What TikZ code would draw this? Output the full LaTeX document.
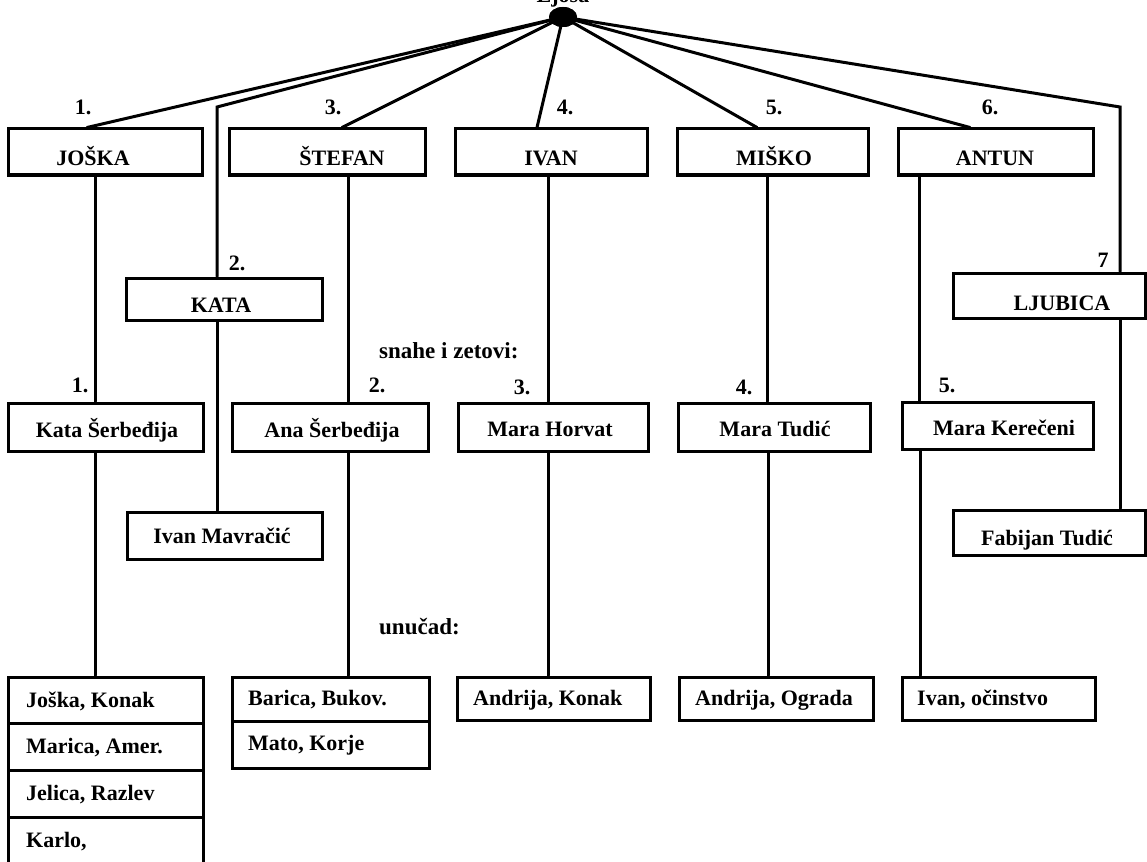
\documentclass[tikz,border=0pt]{standalone}
\usepackage{fontspec}
\setmainfont{Liberation Serif}
\usetikzlibrary{shapes.geometric}
\begin{document}
\begin{tikzpicture}[x=1pt,y=-1pt,
  box/.style={draw, rectangle, line width=3pt, inner sep=0pt},
  lnk/.style={line width=3pt, line cap=round, line join=miter},
  t/.style={inner sep=0pt, font=\fontsize{22}{26}\selectfont\bfseries}]
\useasboundingbox (0,0) rectangle (1147,861);
\fill[white] (0,0) rectangle (1147,861);
% hub
\node[ellipse, fill=black, minimum width=28pt, minimum height=20pt, inner sep=0pt] (hub) at (563,17) {};
\node[t, anchor=base] (top) at (563,3) {Ljoša};
% top row
\node[box, minimum width=194pt, minimum height=46pt] (joska) at (105,152) {};
\node[box, minimum width=196pt, minimum height=46pt] (stefan) at (327,152) {};
\node[box, minimum width=192pt, minimum height=46pt] (ivan) at (551,152) {};
\node[box, minimum width=191pt, minimum height=46pt] (misko) at (772.5,152) {};
\node[box, minimum width=195pt, minimum height=46pt] (antun) at (995.5,152) {};
\node[box, minimum width=196pt, minimum height=42pt] (kata) at (224,299) {};
\node[box, minimum width=192pt, minimum height=45pt] (ljubica) at (1049,295.5) {};
% in-laws
\node[box, minimum width=195pt, minimum height=48pt] (kataS) at (105.5,427) {};
\node[box, minimum width=196pt, minimum height=48pt] (ana) at (330,427) {};
\node[box, minimum width=190pt, minimum height=48pt] (horvat) at (553,427) {};
\node[box, minimum width=192pt, minimum height=48pt] (tudic) at (774,427) {};
\node[box, minimum width=191pt, minimum height=47pt] (kerec) at (997.5,425.5) {};
\node[box, minimum width=195pt, minimum height=47pt] (mavr) at (224.5,535.5) {};
\node[box, minimum width=192pt, minimum height=45pt] (fabijan) at (1049,532.5) {};
% grandchildren
\node[box, minimum width=195pt, minimum height=46pt] (g1) at (105.5,700) {};
\node[box, minimum width=195pt, minimum height=47pt] (g2) at (105.5,746.5) {};
\node[box, minimum width=195pt, minimum height=47pt] (g3) at (105.5,793.5) {};
\node[box, minimum width=195pt, minimum height=47pt] (g4) at (105.5,840.5) {};
\node[box, minimum width=197pt, minimum height=44pt] (b1) at (330.5,699) {};
\node[box, minimum width=197pt, minimum height=47pt] (b2) at (330.5,744.5) {};
\node[box, minimum width=193pt, minimum height=43pt] (ak) at (553.5,698.5) {};
\node[box, minimum width=194pt, minimum height=43pt] (ao) at (776,698.5) {};
\node[box, minimum width=193pt, minimum height=43pt] (io) at (998.5,698.5) {};
% corners
\coordinate (kc) at (217,107);
\coordinate (lc) at (1120,107);
% connectors from hub
\draw[lnk] (hub.center) -- ([xshift=-18pt]joska.north);
\draw[lnk] (hub.center) -- (kc) -- (kc |- kata.north);
\draw[lnk] (hub.center) -- ([xshift=15pt]stefan.north);
\draw[lnk] (hub.center) -- ([xshift=-14pt]ivan.north);
\draw[lnk] (hub.center) -- ([xshift=-15.5pt]misko.north);
\draw[lnk] (hub.center) -- ([xshift=-25.5pt]antun.north);
\draw[lnk] (hub.center) -- (lc) -- (lc |- ljubica.north);
\node[ellipse, fill=black, minimum width=28pt, minimum height=20pt, inner sep=0pt] (hubdot) at (hub) {};
% verticals
\draw[lnk] ([xshift=-10pt]joska.south) -- ([xshift=-10pt]joska.south |- kataS.north);
\draw[lnk] ([xshift=-10.5pt]kataS.south) -- ([xshift=-10.5pt]kataS.south |- g1.north);
\draw[lnk] ([xshift=21pt]stefan.south) -- ([xshift=21pt]stefan.south |- ana.north);
\draw[lnk] ([xshift=18pt]ana.south) -- ([xshift=18pt]ana.south |- b1.north);
\draw[lnk] ([xshift=-3pt]ivan.south) -- ([xshift=-3pt]ivan.south |- horvat.north);
\draw[lnk] ([xshift=-5pt]horvat.south) -- ([xshift=-5pt]horvat.south |- ak.north);
\draw[lnk] ([xshift=-5.5pt]misko.south) -- ([xshift=-5.5pt]misko.south |- tudic.north);
\draw[lnk] ([xshift=-5.5pt]tudic.south) -- ([xshift=-5.5pt]tudic.south |- ao.north);
\draw[lnk] ([xshift=-76.5pt]antun.south) -- ([xshift=-76.5pt]antun.south |- kerec.north);
\draw[lnk] ([xshift=-77pt]kerec.south) -- ([xshift=-77pt]kerec.south |- io.north);
\draw[lnk] (kc |- kata.south) -- (kc |- mavr.north);
\draw[lnk] (lc |- ljubica.south) -- (lc |- fabijan.north);
% texts in boxes
\node[t, anchor=base] (joskat) at (93,166) {JOŠKA};
\node[t, anchor=base] (stefant) at (342,166) {ŠTEFAN};
\node[t, anchor=base] (ivant) at (551,166) {IVAN};
\node[t, anchor=base] (miskot) at (774,166) {MIŠKO};
\node[t, anchor=base] (antunt) at (995,166) {ANTUN};
\node[t, anchor=base] (katat) at (221,312) {KATA};
\node[t, anchor=base] (ljubicat) at (1062,310) {LJUBICA};
\node[t, anchor=base] (kataSt) at (107,437) {Kata Šerbeđija};
\node[t, anchor=base] (anat) at (332,437) {Ana Šerbeđija};
\node[t, anchor=base] (horvatt) at (550,436) {Mara Horvat};
\node[t, anchor=base] (tudict) at (775,436) {Mara Tudić};
\node[t, anchor=base] (kerect) at (1004,435) {Mara Kerečeni};
\node[t, anchor=base] (mavrt) at (222,543) {Ivan Mavračić};
\node[t, anchor=base] (fabijant) at (1047,545) {Fabijan Tudić};
\node[t, anchor=base west] (g1t) at (26,707) {Joška, Konak};
\node[t, anchor=base west] (g2t) at (26,753) {Marica, Amer.};
\node[t, anchor=base west] (g3t) at (26,800) {Jelica, Razlev};
\node[t, anchor=base west] (g4t) at (26,847) {Karlo,};
\node[t, anchor=base west] (b1t) at (248,705) {Barica, Bukov.};
\node[t, anchor=base west] (b2t) at (248,750) {Mato, Korje};
\node[t, anchor=base west] (akt) at (473,705) {Andrija, Konak};
\node[t, anchor=base west] (aot) at (695,705) {Andrija, Ograda};
\node[t, anchor=base west] (iot) at (917,705) {Ivan, očinstvo};
% numbers
\node[t, anchor=base] (n1) at (83,115) {1.};
\node[t, anchor=base] (n3) at (333,115) {3.};
\node[t, anchor=base] (n4) at (565,115) {4.};
\node[t, anchor=base] (n5) at (774,115) {5.};
\node[t, anchor=base] (n6) at (990,115) {6.};
\node[t, anchor=base] (n2) at (237,270) {2.};
\node[t, anchor=base] (n7) at (1103,267) {7};
\node[t, anchor=base] (m1) at (80,392) {1.};
\node[t, anchor=base] (m2) at (377,392) {2.};
\node[t, anchor=base] (m3) at (522,394) {3.};
\node[t, anchor=base] (m4) at (744,394) {4.};
\node[t, anchor=base] (m5) at (947,392) {5.};
% captions
\node[t, anchor=base west, font=\fontsize{23}{27}\selectfont\bfseries] (snahe) at (379,358) {snahe i zetovi:};
\node[t, anchor=base west, font=\fontsize{23}{27}\selectfont\bfseries] (unucad) at (379,634) {unučad:};
\end{tikzpicture}
\end{document}
